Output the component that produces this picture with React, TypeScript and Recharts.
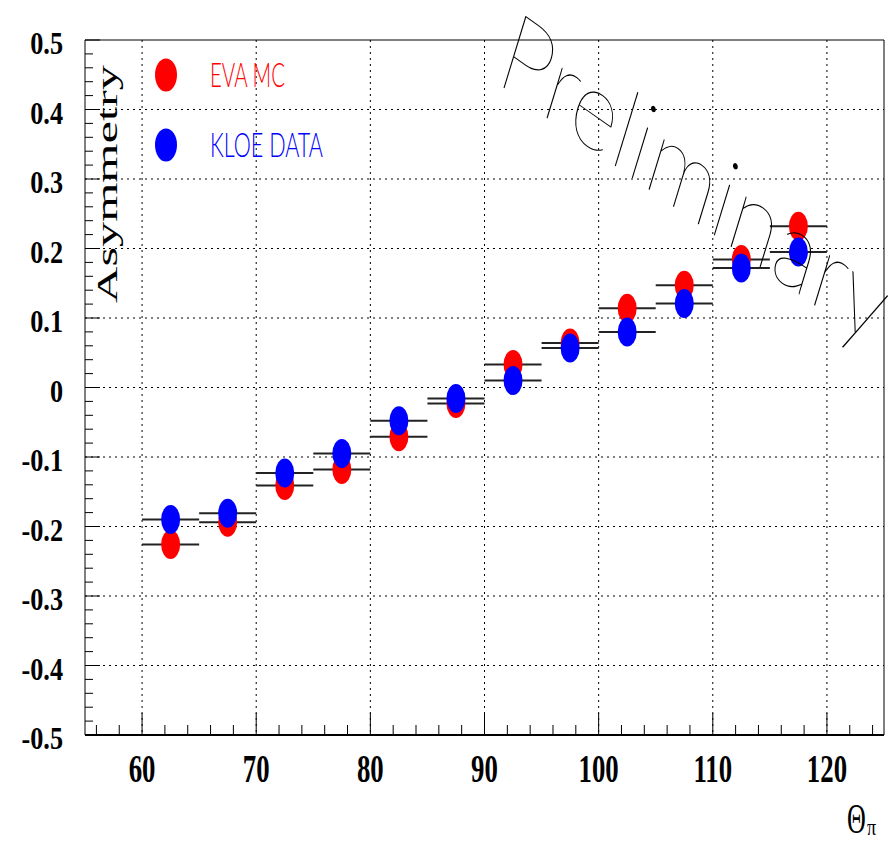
import {
  ScatterChart,
  Scatter,
  XAxis,
  YAxis,
  CartesianGrid,
  ErrorBar,
  ReferenceLine,
} from "recharts";

// bin centres in theta_pi (degrees), bins are 5 deg wide
const thetaBins = [62.5, 67.5, 72.5, 77.5, 82.5, 87.5, 92.5, 97.5, 102.5, 107.5, 112.5, 117.5];
const binHalfWidth = 2.5;

const evaMC = [-0.226, -0.194, -0.141, -0.118, -0.071, -0.023, 0.033, 0.064, 0.114, 0.147, 0.184, 0.232];
const kloeData = [-0.19, -0.181, -0.123, -0.095, -0.048, -0.016, 0.01, 0.057, 0.08, 0.121, 0.172, 0.195];

const xMajorTicks = [60, 70, 80, 90, 100, 110, 120];
const xAllTicks = [56, 58, 60, 62, 64, 66, 68, 70, 72, 74, 76, 78, 80, 82, 84, 86, 88, 90, 92, 94, 96, 98, 100, 102, 104, 106, 108, 110, 112, 114, 116, 118, 120, 122, 124];
const yGridValues = [-0.4, -0.3, -0.2, -0.1, 0, 0.1, 0.2, 0.3, 0.4];
const yAllTicks = Array.from({ length: 51 }, (_, i) => Math.round((-0.5 + i * 0.02) * 100) / 100);

const evaRows = thetaBins.map((x, i) => ({ x, y: evaMC[i], xErr: binHalfWidth }));
const kloeRows = thetaBins.map((x, i) => ({ x, y: kloeData[i], xErr: binHalfWidth }));

const serif = "'Liberation Serif', 'Times New Roman', serif";
const thin = "Lato, 'DejaVu Sans Light', Roboto, sans-serif";

const Blob = (props: any) => {
  const { cx, cy, fill } = props;
  if (cx == null || cy == null) return null;
  return <ellipse cx={cx} cy={cy} rx={9.5} ry={14.5} fill={fill} />;
};

const XTick = (props: any) => {
  const { x, y, payload } = props;
  const v = payload.value;
  const major = v % 10 === 0;
  return (
    <g>
      <line x1={x} x2={x} y1={y} y2={y - (major ? 22 : 10)} stroke="#000" strokeWidth={1} />
      {major && (
        <text
          transform={`translate(${x},${y + 47}) scale(0.67,1)`}
          textAnchor="middle"
          fontFamily={serif}
          fontWeight="bold"
          fontSize={40}
          fill="#000"
        >
          {v}
        </text>
      )}
    </g>
  );
};

const YTick = (props: any) => {
  const { x, y, payload } = props;
  const v = payload.value;
  const major = Math.abs(v * 10 - Math.round(v * 10)) < 1e-6;
  return (
    <g>
      <line x1={x} x2={x + (major ? 15 : 8)} y1={y} y2={y} stroke="#000" strokeWidth={1} />
      {major && (
        <text
          transform={`translate(${x - 22},${y + 14}) scale(0.82,1)`}
          textAnchor="end"
          fontFamily={serif}
          fontWeight="bold"
          fontSize={32}
          fill="#000"
        >
          {String(Math.round(v * 10) / 10)}
        </text>
      )}
    </g>
  );
};

export default function App() {
  return (
    <div style={{ position: "absolute", left: 0, top: 0, width: 894, height: 842, background: "#fff" }}>
      <ScatterChart width={894} height={842} margin={{ top: 40, right: 10, bottom: 0, left: 0 }}>
        <CartesianGrid
          stroke="#000"
          strokeDasharray="2 4"
          horizontalValues={yGridValues}
          verticalValues={xMajorTicks}
        />
        <XAxis
          type="number"
          dataKey="x"
          domain={[55, 125]}
          ticks={xAllTicks}
          interval={0}
          height={107}
          tickSize={0}
          tickMargin={0}
          tickLine={false}
          tick={<XTick />}
          axisLine={{ stroke: "#000", strokeWidth: 2 }}
        />
        <YAxis
          type="number"
          dataKey="y"
          domain={[-0.5, 0.5]}
          ticks={yAllTicks}
          interval={0}
          width={85}
          tickSize={0}
          tickMargin={0}
          tickLine={false}
          tick={<YTick />}
          axisLine={{ stroke: "#000", strokeWidth: 1 }}
        />
        <ReferenceLine y={0.5} stroke="#000" strokeWidth={1} />
        <ReferenceLine x={125} stroke="#000" strokeWidth={1} />
        <Scatter name="EVA MC" data={evaRows} fill="#ff0000" shape={<Blob />} isAnimationActive={false}>
          <ErrorBar dataKey="xErr" direction="x" width={0} stroke="#222" strokeWidth={2} />
        </Scatter>
        <Scatter name="KLOE DATA" data={kloeRows} fill="#0000ff" shape={<Blob />} isAnimationActive={false}>
          <ErrorBar dataKey="xErr" direction="x" width={0} stroke="#222" strokeWidth={2} />
        </Scatter>
      </ScatterChart>

      <svg
        width={894}
        height={842}
        style={{ position: "absolute", left: 0, top: 0, pointerEvents: "none" }}
      >
        {/* legend */}
        <ellipse cx={166} cy={75} rx={11} ry={16.5} fill="#ff0000" />
        <text x={210} y={87} fontFamily={thin} fontWeight={300} fontSize={34} fill="#ff0000" textLength={75} lengthAdjust="spacingAndGlyphs">
          EVA MC
        </text>
        <ellipse cx={166} cy={145} rx={11} ry={16.5} fill="#0000ff" />
        <text x={210} y={157} fontFamily={thin} fontWeight={300} fontSize={34} fill="#0000ff" textLength={113} lengthAdjust="spacingAndGlyphs">
          KLOE DATA
        </text>

        {/* axis titles */}
        <text
          transform="translate(117,303) rotate(-90) scale(1.4,0.84)"
          fontFamily={serif}
          fontSize={36}
          fill="#000"
        >
          Asymmetry
        </text>
        <text transform="translate(847,833) scale(0.62,1)" fontFamily={serif} fontSize={42} fill="#000">
          Θ
        </text>
        <text transform="translate(867,835) scale(0.75,1)" fontFamily={serif} fontSize={24} fill="#000">
          π
        </text>

        {/* watermark */}
        <text
          transform="translate(494,81) rotate(35) skewX(18)"
          fontFamily={thin}
          fontWeight={200}
          fontSize={102}
          fill="#000"
          textLength={465}
          lengthAdjust="spacingAndGlyphs"
        >
          Preliminary
        </text>
      </svg>
    </div>
  );
}
